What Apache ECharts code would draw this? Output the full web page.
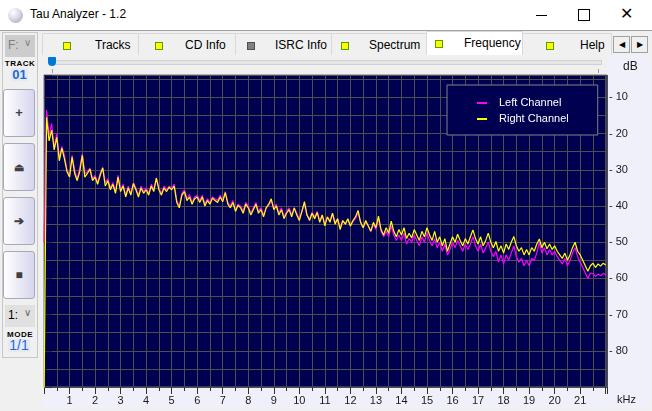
<!DOCTYPE html>
<html>
<head>
<meta charset="utf-8">
<script src="https://cdn.jsdelivr.net/npm/echarts@6/dist/echarts.min.js"></script>
<style>
  body { margin: 0; width: 652px; height: 411px; overflow: hidden; background: #f0f0f0; font-family: "Liberation Sans", Arial, sans-serif; position: relative; }
  .abs { position: absolute; }
  #titlebar { left: 0; top: 0; width: 652px; height: 30px; background: #fff; border-bottom: 1px solid #a0a0a0; }
  #icon { left: 8px; top: 8px; width: 15px; height: 15px; border-radius: 50%; background: radial-gradient(circle at 35% 30%, #ffffff 0%, #d8d8ea 45%, #9c9cb8 100%); }
  #title { left: 30px; top: 7px; font-size: 12px; color: #000; }
  .tab { top: 33px; height: 22px; background: #f0f0f0; border: 1px solid #d9d9d9; border-bottom: none; box-sizing: border-box; }
  .tab.active { top: 31px; height: 25px; background: #fff; }
  .tabtxt { font-size: 12px; color: #000; }
  .ind { width: 6px; height: 6px; background: #ffff00; border: 1px solid #50a000; }
  .ind.off { background: #808080; border-color: #505050; }
  .arrow { top: 36px; width: 17px; height: 17px; background: #f0f0f0; border: 1px solid #a0a0a0; box-sizing: border-box; font-size: 8px; text-align: center; line-height: 15px; }
  #page { left: 42px; top: 55px; width: 608px; height: 353px; background: #f0f0fb; }
  #sliderbg { left: 42px; top: 55px; width: 565px; height: 19px; background: #f0f0f0; }
  #track { left: 50px; top: 60px; width: 550px; height: 3px; background: #e6e6e6; border: 1px solid #d0d0d0; }
  #thumb { left: 48px; top: 57px; width: 8px; height: 9px; background: #0078d7; border-radius: 1px 1px 4px 4px; }
  #panel { left: 2px; top: 32px; width: 36px; height: 326px; border: 1px solid #c8c8c8; box-sizing: border-box; }
  .combo { left: 5px; width: 30px; height: 22px; background: #cccccc; font-size: 12px; color: #808080; }
  .small { font-size: 8px; font-weight: bold; letter-spacing: 0.5px; color: #000; width: 38px; text-align: center; left: 1px; }
  .num { left: 11px; width: 17px; height: 13px; background: #e8e8f4; color: #1c6dd0; font-weight: bold; font-size: 13px; line-height: 13px; text-align: center; }
  .btn { left: 3px; width: 32px; height: 48px; border: 1px solid #a8a8bc; border-radius: 3px; box-sizing: border-box; background: linear-gradient(to right, #ffffff, #d6d6ee); text-align: center; line-height: 46px; color: #404040; font-size: 13px; font-weight: bold; }
  #chart { left: 0; top: 0; width: 652px; height: 411px; }
</style>
</head>
<body>
<div id="titlebar" class="abs"></div>
<div id="icon" class="abs"></div>
<div id="title" class="abs">Tau Analyzer - 1.2</div>
<div class="abs" style="left:536px;top:15px;width:11px;height:1px;background:#000"></div>
<div class="abs" style="left:578px;top:9px;width:10px;height:10px;border:1px solid #000"></div>
<div class="abs" style="left:620px;top:4px;font-size:16px;color:#000">&#x2715;</div>

<div id="panel" class="abs"></div>
<div class="abs combo" style="top:35px"><span class="abs" style="left:3px;top:3px">F:</span><span class="abs" style="left:19px;top:2px;font-size:10px">&#x2228;</span></div>
<div class="abs small" style="top:59px">TRACK</div>
<div class="abs num" style="top:68px">01</div>
<div class="abs btn" style="top:89px">+</div>
<div class="abs btn" style="top:143px;font-size:11px">&#x23CF;</div>
<div class="abs btn" style="top:197px;font-size:12px">&#x2794;</div>
<div class="abs btn" style="top:251px;font-size:12px">&#x25A0;</div>
<div class="abs combo" style="top:305px;background:#e0e0e0;color:#000"><span class="abs" style="left:3px;top:3px">1:</span><span class="abs" style="left:19px;top:2px;font-size:10px;color:#666">&#x2228;</span></div>
<div class="abs small" style="top:330px">MODE</div>
<div class="abs num" style="top:339px;width:22px;left:8px;font-weight:normal;font-size:14px">1/1</div>

<div class="abs tab" style="left:42px;width:97px"></div>
<div class="abs ind" style="left:63px;top:42px"></div>
<div class="abs tabtxt" style="left:95px;top:38px">Tracks</div>
<div class="abs tab" style="left:138px;width:98px"></div>
<div class="abs ind" style="left:155px;top:42px"></div>
<div class="abs tabtxt" style="left:185px;top:38px">CD Info</div>
<div class="abs tab" style="left:235px;width:97px"></div>
<div class="abs ind off" style="left:247px;top:42px"></div>
<div class="abs tabtxt" style="left:275px;top:38px">ISRC Info</div>
<div class="abs tab" style="left:331px;width:96px"></div>
<div class="abs ind" style="left:341px;top:42px"></div>
<div class="abs tabtxt" style="left:369px;top:38px">Spectrum</div>
<div class="abs tab active" style="left:426px;width:97px"></div>
<div class="abs ind" style="left:435px;top:40px"></div>
<div class="abs tabtxt" style="left:464px;top:36px">Frequency</div>
<div class="abs tab" style="left:522px;width:90px"></div>
<div class="abs ind" style="left:546px;top:42px"></div>
<div class="abs tabtxt" style="left:580px;top:38px">Help</div>
<div class="abs arrow" style="left:613px">&#x25C0;</div>
<div class="abs arrow" style="left:631px">&#x25B6;</div>

<div id="page" class="abs"></div>
<div id="sliderbg" class="abs"></div>
<div id="track" class="abs"></div>
<div id="thumb" class="abs"></div>
<div class="abs" style="left:52px;top:69px;width:1px;height:4px;background:#a0a0a0"></div>
<div class="abs" style="left:598px;top:69px;width:1px;height:4px;background:#a0a0a0"></div>

<div id="chart" class="abs"></div>
<script>
// FFT bin width in kHz, first bin at 0 kHz
var binWidth = 0.1;

// left channel level per bin (dB)
var leftDb = [
  -50, -13.5, -20.5, -17.2, -24, -20, -26.5, -23.5, -26, -30,
  -31.5, -26, -30, -32.5, -29.5, -25.6, -31, -30.5, -29.5, -32.5,
  -31.5, -33.5, -31, -29.3, -33.5, -32.5, -35, -33.5, -36, -31.5,
  -35.5, -34, -37, -34.5, -36.5, -33.6, -35, -37, -34.5, -36,
  -35, -36.5, -34, -35.5, -32.2, -35, -36.5, -34.5, -35.5, -34.5,
  -35, -34, -38.5, -40, -36.5, -35.5, -38, -36.8, -39, -37.5,
  -37, -38.5, -37, -39.5, -38, -39, -37.5, -38, -38.5, -37,
  -38.5, -36, -39, -40, -38.5, -41, -39.5, -40, -41.5, -39,
  -40, -42, -40.5, -39, -41.5, -40.5, -42.5, -40.5, -39.8, -38.5,
  -40.5, -39.5, -42, -40.5, -43, -41.5, -40.5, -42.5, -40.5, -42,
  -43.5, -41.5, -39.5, -42.5, -43.5, -41.8, -43, -41.5, -44, -42.5,
  -45, -43, -44, -42, -44.5, -43.5, -46, -44, -45, -43.8,
  -45.5, -44.3, -43.5, -41.8, -44.5, -46, -44.5, -45.5, -47, -45,
  -46.5, -43.5, -47, -48.5, -47, -48.5, -45.5, -48, -49.5, -48,
  -49.5, -47.5, -50.5, -49, -50, -48, -49.5, -51, -48.5, -50,
  -47.5, -49.5, -51, -49, -51.5, -50, -52.5, -50.5, -53.5, -52,
  -50, -51.5, -49.5, -51, -52.5, -50.5, -52, -50.5, -48.5, -51,
  -52.5, -50.5, -53, -51.5, -50, -52.5, -54, -52.5, -55.5, -53.5,
  -56, -53.5, -55, -53, -51, -54, -55.5, -54.5, -56.5, -55,
  -56.5, -54.5, -55, -53, -50, -53, -51.5, -53.5, -52, -53.5,
  -52.5, -54, -55, -56, -54.5, -56.5, -55, -53, -51.5, -54,
  -55.5, -57, -58.5, -60, -58.5, -58.7, -59.5, -58.8, -59.3, -58.6,
  -59
];

// right channel level per bin (dB)
var rightDb = [
  -95, -15.5, -22, -19, -24.5, -21, -27.5, -24, -27, -30.5,
  -32, -26.5, -31, -33, -30.5, -26, -32, -31, -29.8, -33,
  -32, -34, -31.5, -29.5, -34.5, -33, -35.5, -34, -36.5, -32,
  -36, -34.5, -37.5, -35, -37, -33.8, -35.5, -37.5, -35, -36.5,
  -35.5, -37, -34.5, -36, -32.3, -35.5, -37, -35, -36, -34.8,
  -35.5, -34.5, -39, -40.5, -37, -36, -38.5, -37.5, -39.5, -38,
  -37.5, -39, -37.5, -40, -38.5, -39.5, -37.8, -38.5, -39, -37.5,
  -38.8, -36.3, -39.5, -40.5, -39, -41.5, -39.8, -40.5, -42, -39.5,
  -40.5, -42.5, -41, -39.5, -42, -41, -43, -40.5, -39.5, -38,
  -41, -40, -42.5, -41, -43.5, -42, -41, -43, -40.5, -42.5,
  -44, -41.5, -38.8, -42.5, -44, -42, -43.5, -41.8, -44.5, -42.5,
  -45.5, -43, -44.5, -42, -45, -43.5, -46.5, -44, -45, -43.5,
  -45.5, -44, -43, -41.2, -44.5, -46, -44, -45.5, -47, -44.5,
  -46, -42.8, -46.5, -48, -46, -47.5, -44.2, -47, -48.5, -46.5,
  -48, -46, -49, -47.5, -48.8, -46.5, -48, -49.5, -47, -48.5,
  -46, -48, -49.5, -47, -50, -48.5, -51, -49, -52.5, -50.5,
  -48.5, -50, -47.8, -49.5, -51, -49, -50.5, -48.5, -46.6, -49,
  -50.5, -48.5, -51, -49.5, -47.5, -50, -51.5, -49.8, -52.5, -51,
  -53, -50.5, -52, -50, -48.4, -51, -52.5, -51.5, -53.5, -52,
  -53.5, -51.5, -52.5, -50.5, -49.1, -51.5, -50, -51.8, -50.5, -52,
  -51, -52.5, -53.5, -54.5, -53, -55, -53.5, -51.5, -50, -52.5,
  -53.5, -55, -56.5, -58, -56.5, -55.8, -57, -56, -56.6, -55.8,
  -56.3
];

function toPairs(levels) {
  return levels.map(function (v, i) {
    return [Math.round(i * binWidth * 100) / 100, v];
  });
}

var gridColor = '#4e4e4e';

var myChart = echarts.init(document.getElementById('chart'));
myChart.setOption({
  animation: false,
  backgroundColor: 'transparent',
  grid: {
    left: 44, right: 45, top: 75, bottom: 24,
    show: true,
    backgroundColor: '#000050',
    borderColor: '#707070',
    borderWidth: 1
  },
  legend: {
    data: ['Left Channel', 'Right Channel'],
    orient: 'vertical',
    left: 447,
    top: 85,
    padding: [12, 29, 10, 30],
    itemGap: 4,
    itemWidth: 10,
    itemHeight: 2,
    icon: 'rect',
    backgroundColor: '#000050',
    borderColor: '#808080',
    borderWidth: 1,
    textStyle: {
      color: '#ffffff',
      fontSize: 11,
      lineHeight: 12,
      fontFamily: 'Liberation Sans',
      padding: [0, 0, 0, 7]
    }
  },
  xAxis: {
    type: 'value',
    min: 0,
    max: 22.05,
    interval: 1,
    axisLine: {show: false},
    axisTick: {show: true, length: 7, lineStyle: {color: '#303030'}},
    minorTick: {show: true, splitNumber: 2, length: 4, lineStyle: {color: '#303030'}},
    splitLine: {show: true, lineStyle: {color: gridColor, width: 1}},
    minorSplitLine: {show: true, lineStyle: {color: gridColor, width: 1}},
    axisLabel: {
      color: '#1a1a1a',
      fontSize: 11,
      fontFamily: 'Liberation Sans',
      margin: 8,
      formatter: function (v) {
        return (v > 0 && v < 22) ? String(v) : '';
      }
    }
  },
  yAxis: {
    type: 'value',
    position: 'right',
    min: -90,
    max: -3.8,
    interval: 10,
    axisLine: {show: false},
    axisTick: {show: true, length: 8, lineStyle: {color: '#303030'}},
    minorTick: {show: true, splitNumber: 2, length: 3, lineStyle: {color: '#303030'}},
    splitLine: {show: true, lineStyle: {color: gridColor, width: 1}},
    minorSplitLine: {show: true, lineStyle: {color: gridColor, width: 1}},
    axisLabel: {
      color: '#1a1a1a',
      fontSize: 11,
      fontFamily: 'Liberation Sans',
      margin: 2,
      formatter: function (v) {
        return (v > -90 && v % 10 === 0) ? '- ' + (-v) : '';
      }
    }
  },
  graphic: [
    {type: 'text', left: 623, top: 61, style: {text: 'dB', fill: '#1a1a1a', font: '12px "Liberation Sans"'}},
    {type: 'text', left: 617, top: 394, style: {text: 'kHz', fill: '#1a1a1a', font: '11px "Liberation Sans"'}}
  ],
  series: [
    {
      name: 'Left Channel',
      type: 'line',
      data: toPairs(leftDb),
      showSymbol: false,
      color: '#ff00ff',
      lineStyle: {width: 1.2, color: '#ff00ff'},
      clip: true
    },
    {
      name: 'Right Channel',
      type: 'line',
      data: toPairs(rightDb),
      showSymbol: false,
      color: '#ffff00',
      lineStyle: {width: 1.2, color: '#ffff00'},
      clip: true
    }
  ]
});
</script>
</body>
</html>
